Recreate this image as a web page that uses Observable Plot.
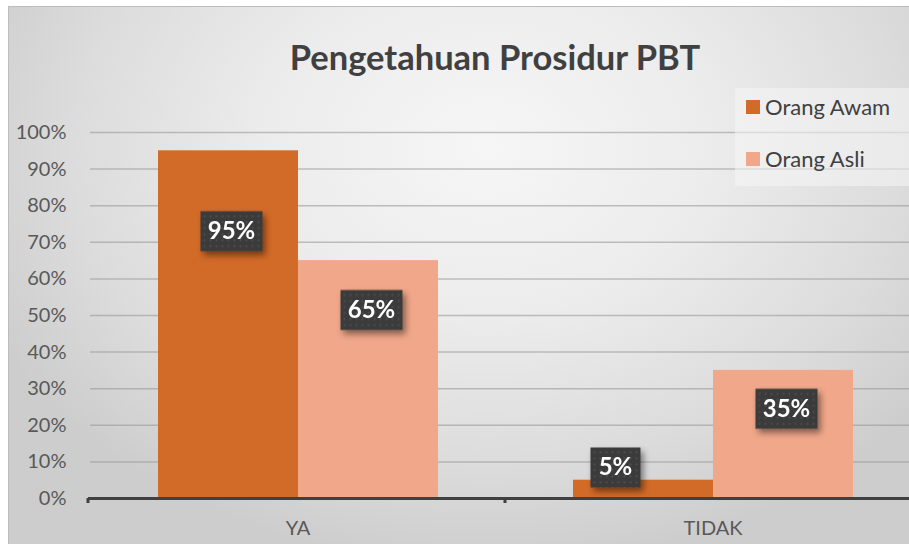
<!DOCTYPE html>
<html>
<head>
<meta charset="utf-8">
<script src="https://cdn.jsdelivr.net/npm/d3@7"></script>
<script src="https://cdn.jsdelivr.net/npm/@observablehq/plot@0.6"></script>
<style>
  html, body { margin: 0; padding: 0; background: #fff; }
  #wrap { position: relative; width: 909px; height: 544px; overflow: hidden; background: #fff; }
  #bg { position: absolute; left: 8px; top: 6px; width: 920px; height: 560px;
        border-left: 1.5px solid #bdbdbd; border-top: 1.5px solid #bdbdbd;
        background: radial-gradient(ellipse 60% 75% at 52% 25%, #f6f6f6 0%, #ececec 40%, #dcdcdc 75%, #cdcdcd 100%); }
  #chart { position: absolute; left: 0; top: 0; width: 920px; }
  #chart svg { max-width: none !important; }
  #title { position: absolute; left: 0; width: 990px; top: 36px; text-align: center;
           font-family: Lato, "Open Sans", sans-serif; font-weight: bold; font-size: 34.5px; color: #404040; line-height: 42px; }
  #legend { position: absolute; left: 735px; top: 88px; width: 180px; height: 98px;
            background: rgba(245,245,245,0.55); font-family: Lato, "Open Sans", sans-serif; font-size: 22px; color: #404040; }
  #legend .item { position: absolute; left: 11px; display: flex; align-items: center; }
  #legend .sw { width: 14px; height: 14px; margin-right: 5px; }
</style>
</head>
<body>
<div id="wrap">
  <div id="bg"></div>
  <div id="chart"></div>
  <div id="title"></div>
  <div id="legend"></div>
</div>
<script>
const title = "Pengetahuan Prosidur PBT";
const categories = ["YA", "TIDAK"];
const seriesNames = ["Orang Awam", "Orang Asli"];
const awam = [0.95, 0.05];
const asli = [0.65, 0.35];
const labelAt = [[0.73, 0.085], [0.515, 0.245]]; // label box centres, per series then category
const yTicks = [0, 0.1, 0.2, 0.3, 0.4, 0.5, 0.6, 0.7, 0.8, 0.9, 1.0];
const colors = ["#D36B28", "#F0A78A"];

const seriesValues = [awam, asli];
const data = [];
seriesValues.forEach((vals, si) => {
  vals.forEach((v, ci) => {
    data.push({series: seriesNames[si], cat: categories[ci], value: v, label: Math.round(v * 100) + "%", at: labelAt[si][ci]});
  });
});

const wideBox = {draw(ctx) { ctx.rect(-31, -20, 62, 40); }};
const narrowBox = {draw(ctx) { ctx.rect(-25, -20, 50, 40); }};
const wide = data.filter(d => d.label.length > 2);
const narrow = data.filter(d => d.label.length <= 2);

const chart = Plot.plot({
  width: 920,
  height: 544,
  marginLeft: 90,
  marginRight: 0,
  marginTop: 132,
  marginBottom: 46,
  style: {background: "transparent", fontFamily: "Lato, 'Open Sans', sans-serif", maxWidth: "none"},
  facet: {marginTop: 0, marginBottom: 0, marginLeft: 0, marginRight: 0},
  fx: {domain: categories, padding: 0, label: null, axis: null},
  x: {domain: seriesNames, paddingInner: 0, paddingOuter: 0.48, axis: null},
  y: {domain: [0, 1], label: null, axis: null},
  color: {domain: seriesNames, range: colors},
  marks: [
    Plot.ruleY(yTicks.slice(1), {stroke: "#9a9a9a", strokeOpacity: 0.6, strokeWidth: 1.5}),
    Plot.axisY(yTicks, {tickSize: 0, tickPadding: 24, tickFormat: d => Math.round(d * 100) + "%", fontSize: 20, fill: "#595959", label: null}),
    Plot.axisFx({anchor: "bottom", tickSize: 0, tickPadding: 22, fontSize: 20, fill: "#595959", label: null}),
    Plot.barY(data, {fx: "cat", x: "series", y: "value", fill: "series"}),
    Plot.dot(wide, {fx: "cat", x: "series", y: "at", symbol: wideBox, r: 10, fill: "#3b3b3b", stroke: null, dx: 3}),
    Plot.text(wide, {fx: "cat", x: "series", y: "at", text: "label", fill: "white", fontWeight: "bold", fontSize: 24, dx: 3}),
    Plot.dot(narrow, {fx: "cat", x: "series", y: "at", symbol: narrowBox, r: 10, fill: "#3b3b3b", stroke: null, dx: -28}),
    Plot.text(narrow, {fx: "cat", x: "series", y: "at", text: "label", fill: "white", fontWeight: "bold", fontSize: 24, dx: -28}),
    Plot.ruleY([0], {stroke: "#404040", strokeWidth: 3, insetLeft: -2})
  ]
});
document.getElementById("chart").appendChild(chart);
document.getElementById("title").textContent = title;

// style: drop shadow + dotted pattern on label boxes, tick marks below baseline
const svg = d3.select(chart);
const defs = svg.insert("defs", ":first-child");
const f = defs.append("filter").attr("id", "sh").attr("x", "-30%").attr("y", "-30%").attr("width", "170%").attr("height", "170%");
f.append("feDropShadow").attr("dx", 3).attr("dy", 4).attr("stdDeviation", 3).attr("flood-color", "#000").attr("flood-opacity", 0.45);
const pat = defs.append("pattern").attr("id", "dots").attr("width", 6).attr("height", 6).attr("patternUnits", "userSpaceOnUse");
pat.append("rect").attr("width", 6).attr("height", 6).attr("fill", "#3a3a3a");
pat.append("circle").attr("cx", 3).attr("cy", 3).attr("r", 0.9).attr("fill", "#575757");
svg.selectAll("g[aria-label='dot']").attr("filter", "url(#sh)").selectAll("path").attr("fill", "url(#dots)");

// baseline ticks (left end and between categories)
const yBase = 544 - 46;
[88, 505].forEach(x => {
  svg.append("rect").attr("x", x - 1.5).attr("y", yBase).attr("width", 3).attr("height", 5).attr("fill", "#404040");
});

// legend
const lg = document.getElementById("legend");
seriesNames.forEach((n, i) => {
  const it = document.createElement("div");
  it.className = "item";
  it.style.top = (5 + i * 52) + "px";
  it.innerHTML = `<span class="sw" style="background:${colors[i]}"></span><span>${n}</span>`;
  lg.appendChild(it);
});
</script>
</body>
</html>
